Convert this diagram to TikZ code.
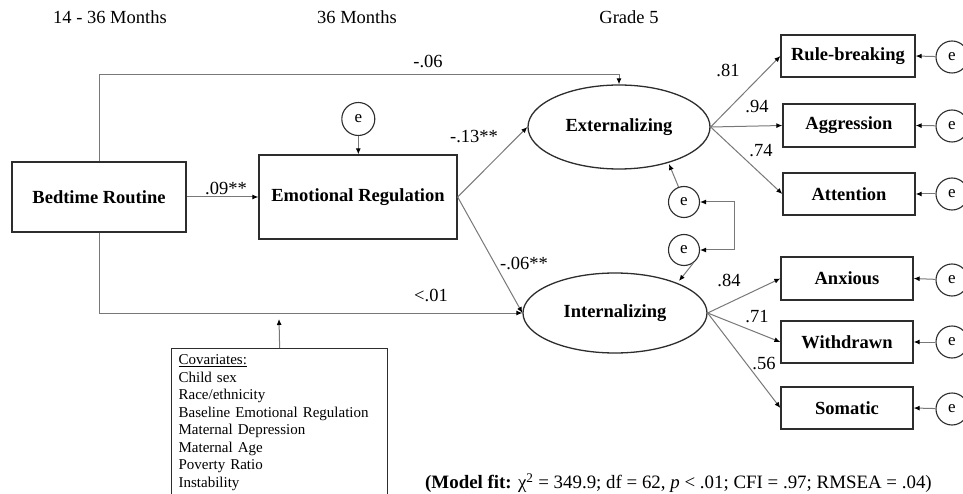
\documentclass[tikz,border=0pt]{standalone}
\usepackage{fontspec}
\setmainfont{Liberation Serif}
\usetikzlibrary{arrows.meta,shapes.geometric}
\definecolor{conncol}{RGB}{120,120,120}
\definecolor{boxcol}{RGB}{45,45,45}
\begin{document}
\begin{tikzpicture}[x=1pt,y=-1pt,
  txt/.style={font=\fontsize{18.5}{22}\selectfont,inner sep=0pt},
  var/.style={draw=boxcol,line width=1.3pt,rectangle,inner sep=0pt,font=\fontsize{18.5}{22}\selectfont\bfseries},
  lat/.style={var,ellipse},
  err/.style={draw=boxcol,line width=1.1pt,circle,inner sep=0pt,minimum size=32pt,font=\fontsize{17}{20}\selectfont},
  conn/.style={draw=conncol,line width=1pt,-{Latex[length=6pt,width=5pt,color=black]}},
  dconn/.style={draw=conncol,line width=1pt,{Latex[length=6pt,width=5pt,color=black]}-{Latex[length=6pt,width=5pt,color=black]}}
]
\useasboundingbox (0,0) rectangle (963,494);
\clip (0,0) rectangle (963,494);
\fill[white] (0,0) rectangle (963,494);

% headings
\node[txt] (h1) at (110,17) {14 - 36 Months};
\node[txt] (h2) at (357,17) {36 Months};
\node[txt] (h3) at (629,17) {Grade 5};

% main variables
\node[var,minimum width=174pt,minimum height=70pt] (bed) at (99,197) {Bedtime Routine};
\node[var,minimum width=198pt,minimum height=84pt] (er) at (358,197) {Emotional Regulation};
\node[lat,minimum width=182pt,minimum height=84pt] (ext) at (619,127) {Externalizing};
\node[lat,minimum width=184pt,minimum height=80pt] (int) at (615,313) {Internalizing};

% indicators
\node[var,minimum width=134pt,minimum height=42pt] (rule) at (848,56) {Rule-breaking};
\node[var,minimum width=132pt,minimum height=43pt] (agg) at (849,125.5) {Aggression};
\node[var,minimum width=132pt,minimum height=42pt] (att) at (849,194) {Attention};
\node[var,minimum width=132pt,minimum height=43pt] (anx) at (847,278.5) {Anxious};
\node[var,minimum width=132pt,minimum height=42pt] (wd) at (847,342) {Withdrawn};
\node[var,minimum width=132pt,minimum height=42pt] (som) at (847,408) {Somatic};

% error terms
\node[err,minimum size=33pt] (eer) at (358.3,119) {e};
\node[err,minimum size=31pt] (e1) at (684,202) {e};
\node[err,minimum size=31pt] (e2) at (684,250) {e};
\node[err] (er1) at (952,57) {e};
\node[err] (er2) at (952,126) {e};
\node[err] (er3) at (952,194) {e};
\node[err] (er4) at (952,280) {e};
\node[err] (er5) at (952,342) {e};
\node[err] (er6) at (952,409) {e};

% covariates
\node[draw=boxcol,line width=1.3pt,anchor=north west,inner xsep=7pt,inner ysep=6pt,
      text width=202pt,align=left,font=\fontsize{15}{17.5}\selectfont] (cov) at (171,348)
  {\underline{Covariates:}\\Child sex\\Race/ethnicity\\Baseline Emotional Regulation\\Maternal Depression\\Maternal Age\\Poverty Ratio\\Instability};

% structural paths
\coordinate (topy) at (0,75);
\draw[conn] (bed.east) -- (er.west);
\draw[conn] (bed.north) |- (topy -| ext.north) -- (ext.north);
\draw[conn] (bed.south) |- (int.west);
\draw[conn] (er.east) -- (ext.west);
\draw[conn] (er.east) -- (int.west);
\coordinate (covtip) at (279,319);
\draw[conn] (cov.north) -- (covtip);

% loadings
\draw[conn] (ext.east) -- (rule.west);
\draw[conn] (ext.east) -- (agg.west);
\draw[conn] (ext.east) -- (att.west);
\draw[conn] (int.east) -- (anx.west);
\draw[conn] (int.east) -- (wd.west);
\draw[conn] (int.east) -- (som.west);

% errors
\coordinate (extin) at (669,164);
\coordinate (intin) at (679,281);
\draw[conn] (eer.south) -- (er.north -| eer.south);
\draw[conn] (e1.110) -- (extin);
\draw[conn] (e2.-55) -- (intin);
\draw[dconn] (e1.east) -- ++(34,0) |- (e2.east);
\draw[conn] (er1) -- (rule.east);
\draw[conn] (er2) -- (agg.east);
\draw[conn] (er3) -- (att.east);
\draw[conn] (er4) -- (anx.east);
\draw[conn] (er5) -- (wd.east);
\draw[conn] (er6) -- (som.east);

% coefficient labels
\node[txt] (l1) at (428,61) {-.06};
\node[txt] (l2) at (226,188) {.09**};
\node[txt] (l3) at (474,137) {-.13**};
\node[txt] (l4) at (524,263) {-.06**};
\node[txt] (l5) at (431,295) {<.01};
\node[txt] (l6) at (728,70) {.81};
\node[txt] (l7) at (757,107) {.94};
\node[txt] (l8) at (761,151) {.74};
\node[txt] (l9) at (729,280) {.84};
\node[txt] (l10) at (757,317) {.71};
\node[txt] (l11) at (764,364) {.56};

% model fit
\node[txt,anchor=east,font=\fontsize{18.9}{22}\selectfont] (fit) at (932,483) {\textbf{(Model fit:} χ\textsuperscript{2} = 349.9; df = 62, \textit{p} < .01; CFI = .97; RMSEA = .04)};
\end{tikzpicture}
\end{document}
